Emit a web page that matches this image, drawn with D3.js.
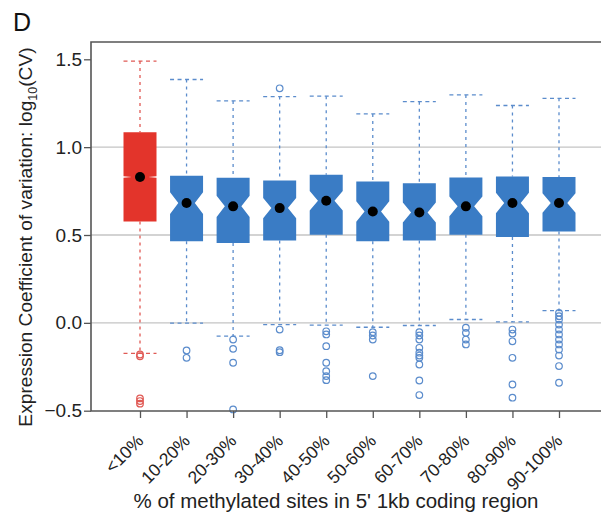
<!DOCTYPE html>
<html>
<head>
<meta charset="utf-8">
<script src="https://cdn.jsdelivr.net/npm/d3@7"></script>
<style>
  html, body { margin: 0; padding: 0; background: #fff; }
  svg { display: block; font-family: "Liberation Sans", Arial, sans-serif; }
</style>
</head>
<body>
<svg id="chart" width="601" height="517"></svg>
<script>
// Methylation bins along the x axis
const categories = ["<10%", "10-20%", "20-30%", "30-40%", "40-50%", "50-60%", "60-70%", "70-80%", "80-90%", "90-100%"];

// Box statistics, log10(CV)
const whiskerHigh = [1.49, 1.385, 1.263, 1.288, 1.29, 1.189, 1.259, 1.297, 1.237, 1.278];
const q3          = [1.085, 0.837, 0.826, 0.81, 0.843, 0.805, 0.795, 0.827, 0.833, 0.83];
const medians     = [0.83, 0.682, 0.663, 0.653, 0.695, 0.634, 0.628, 0.663, 0.682, 0.682];
const q1          = [0.577, 0.464, 0.455, 0.469, 0.502, 0.464, 0.469, 0.502, 0.489, 0.52];
const whiskerLow  = [-0.174, -0.002, -0.076, -0.01, -0.013, -0.025, -0.015, 0.019, 0.006, 0.07];
// Half-width of the median confidence notch
const notchHalf   = [0.004, 0.062, 0.06, 0.058, 0.055, 0.058, 0.057, 0.056, 0.058, 0.056];

// Outlying genes per bin
const outliers = [
  [-0.18, -0.19, -0.43, -0.445, -0.46],
  [-0.157, -0.199],
  [-0.095, -0.148, -0.227, -0.493],
  [1.335, -0.038, -0.156, -0.167],
  [-0.048, -0.066, -0.133, -0.227, -0.275, -0.303, -0.326],
  [-0.053, -0.072, -0.095, -0.303],
  [-0.053, -0.072, -0.095, -0.142, -0.17, -0.186, -0.199, -0.237, -0.328, -0.411],
  [-0.028, -0.057, -0.095, -0.123],
  [-0.038, -0.061, -0.105, -0.199, -0.351, -0.426],
  [0.057, 0.038, 0.019, -0.01, -0.038, -0.066, -0.095, -0.123, -0.152, -0.186, -0.246, -0.341]
];

const yTicks = [-0.5, 0.0, 0.5, 1.0, 1.5];
const gridValues = [0.0, 0.5, 1.0];

const fillColors   = categories.map((c, i) => i === 0 ? "#e3342b" : "#3a7cc5");
const strokeColors = categories.map((c, i) => i === 0 ? "#e05a55" : "#5b8ccc");

const svg = d3.select("#chart");

const frame = { left: 91, top: 42, right: 606, bottom: 411 };

const x = d3.scalePoint().domain(categories).range([140, 559]);
const y = d3.scaleLinear().domain([-0.5, 1.5]).range([410.7, 59.3]);
const boxW = 33;

// Horizontal reference lines
svg.append("g").selectAll("line").data(gridValues).join("line")
  .attr("x1", frame.left).attr("x2", frame.right)
  .attr("y1", d => y(d)).attr("y2", d => y(d))
  .attr("stroke", "#c4c4c4").attr("stroke-width", 1.3);

const groups = svg.append("g").selectAll("g").data(categories).join("g")
  .attr("transform", d => `translate(${x(d)},0)`);

// Whiskers
groups.append("line")
  .attr("x1", 0).attr("x2", 0)
  .attr("y1", (d, i) => y(whiskerHigh[i])).attr("y2", (d, i) => y(q3[i]))
  .attr("stroke", (d, i) => strokeColors[i]).attr("stroke-width", 1.3)
  .attr("stroke-dasharray", "3,4");
groups.append("line")
  .attr("x1", 0).attr("x2", 0)
  .attr("y1", (d, i) => y(q1[i])).attr("y2", (d, i) => y(whiskerLow[i]))
  .attr("stroke", (d, i) => strokeColors[i]).attr("stroke-width", 1.3)
  .attr("stroke-dasharray", "3,4");
// Whisker caps
[whiskerHigh, whiskerLow].forEach(arr => {
  groups.append("line")
    .attr("x1", -boxW / 2).attr("x2", boxW / 2)
    .attr("y1", (d, i) => y(arr[i])).attr("y2", (d, i) => y(arr[i]))
    .attr("stroke", (d, i) => strokeColors[i]).attr("stroke-width", 1.3)
    .attr("stroke-dasharray", "4,3.5");
});

// Notched boxes
groups.append("path")
  .attr("d", (d, i) => {
    const h = boxW / 2, n = boxW / 4;
    const top = y(q3[i]), bot = y(q1[i]), med = y(medians[i]);
    const nu = y(medians[i] + notchHalf[i]), nl = y(medians[i] - notchHalf[i]);
    return `M${-h},${top}L${h},${top}L${h},${nu}L${h - n},${med}L${h},${nl}L${h},${bot}` +
           `L${-h},${bot}L${-h},${nl}L${-h + n},${med}L${-h},${nu}Z`;
  })
  .attr("fill", (d, i) => fillColors[i]);

// Median markers
groups.append("circle")
  .attr("cx", 0).attr("cy", (d, i) => y(medians[i]))
  .attr("r", 5).attr("fill", "#000");

// Outliers
groups.each(function (d, i) {
  d3.select(this).selectAll("circle.out").data(outliers[i]).join("circle")
    .attr("class", "out")
    .attr("cx", 0).attr("cy", v => y(v)).attr("r", 3.3)
    .attr("fill", "none").attr("stroke", strokeColors[i]).attr("stroke-width", 1.2);
});

// Plot frame
svg.append("path")
  .attr("d", `M${frame.right},${frame.top}L${frame.left},${frame.top}L${frame.left},${frame.bottom}L${frame.right},${frame.bottom}`)
  .attr("fill", "none").attr("stroke", "#555").attr("stroke-width", 1.6);

// Y axis
const yAxis = svg.append("g")
  .attr("transform", `translate(${frame.left},0)`)
  .call(d3.axisLeft(y).tickValues(yTicks).tickFormat(d3.format(".1f")).tickSize(7).tickSizeOuter(0));
yAxis.select(".domain").remove();
yAxis.selectAll(".tick line").attr("stroke", "#555").attr("stroke-width", 1.3);
yAxis.selectAll(".tick text")
  .attr("font-size", 19).attr("fill", "#222").attr("x", -9)
  .attr("font-family", "Liberation Sans, Arial, sans-serif")
  .text(d => d < 0 ? "\u2212" + Math.abs(d).toFixed(1) : d.toFixed(1));

// X axis
const xAxis = svg.append("g")
  .attr("transform", `translate(0,${frame.bottom})`)
  .call(d3.axisBottom(x).tickSize(7).tickSizeOuter(0));
xAxis.select(".domain").remove();
xAxis.selectAll(".tick line").attr("stroke", "#555").attr("stroke-width", 1.3);
xAxis.selectAll(".tick text")
  .attr("font-size", 17.5).attr("fill", "#222")
  .attr("font-family", "Liberation Sans, Arial, sans-serif")
  .attr("text-anchor", "end")
  .attr("x", 0).attr("y", 0).attr("dy", 0)
  .attr("transform", "translate(4,31) rotate(-45)");

// Axis titles
svg.append("text")
  .attr("x", 336).attr("y", 508)
  .attr("text-anchor", "middle").attr("font-size", 20.5).attr("fill", "#222")
  .text("% of methylated sites in 5' 1kb coding region");

const yTitle = svg.append("text")
  .attr("transform", "translate(32,237) rotate(-90)")
  .attr("text-anchor", "middle").attr("font-size", 19.2).attr("fill", "#222");
yTitle.append("tspan").text("Expression Coefficient of variation: log");
yTitle.append("tspan").attr("font-size", 12.5).attr("dy", 5).text("10");
yTitle.append("tspan").attr("dy", -5).text("(CV)");

// Panel letter
svg.append("text")
  .attr("x", 13).attr("y", 31).attr("font-size", 25).attr("fill", "#111")
  .text("D");
</script>
</body>
</html>
